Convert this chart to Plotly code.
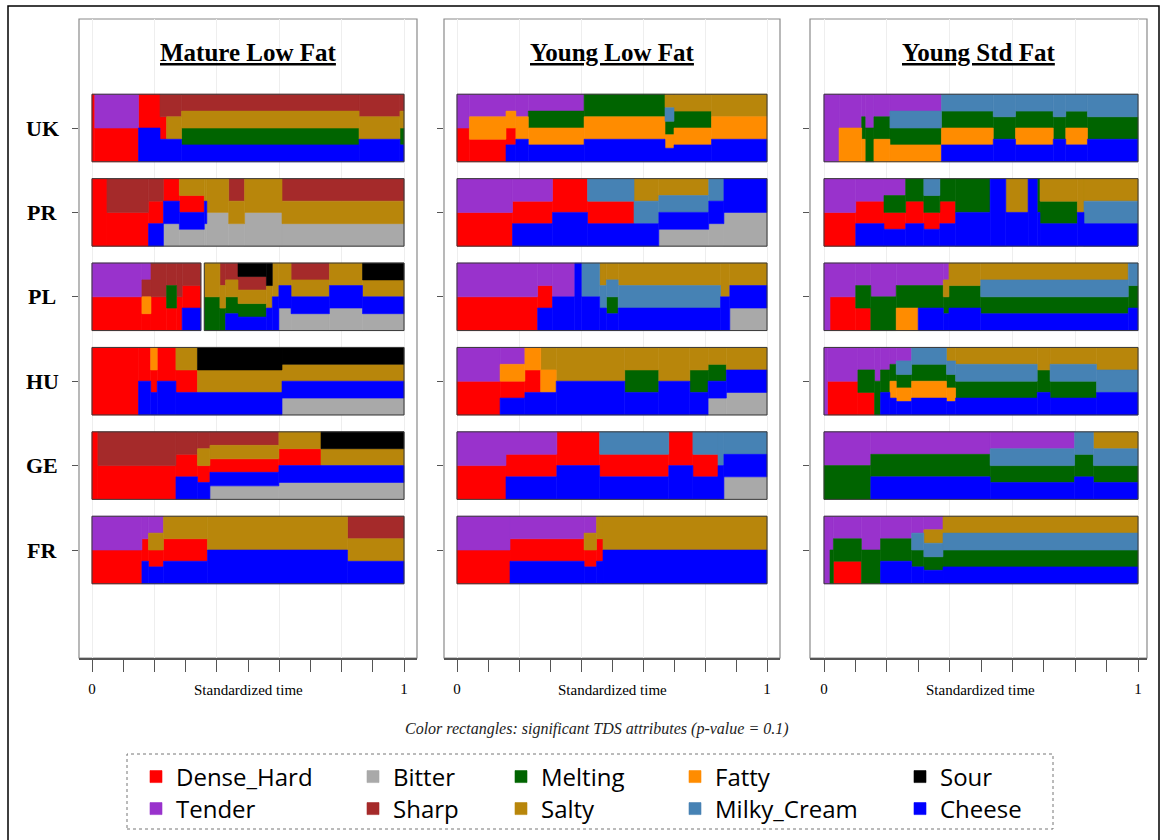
import plotly.graph_objects as go

# ---------------- data ----------------
PANELS = ["Mature Low Fat", "Young Low Fat", "Young Std Fat"]
COUNTRIES = ["UK", "PR", "PL", "HU", "GE", "FR"]

ATTRIBUTES = ["Dense_Hard", "Tender", "Bitter", "Sharp", "Melting",
              "Salty", "Fatty", "Milky_Cream", "Sour", "Cheese"]
ATTR_CODES = ["D", "T", "B", "S", "M", "Y", "F", "K", "O", "C"]
ATTR_COLORS = ["#FF0000", "#9932CC", "#A9A9A9", "#A52A2A", "#006400",
               "#B8860B", "#FF8C00", "#4682B4", "#000000", "#0000FF"]

LEGEND_ROW1 = ["Dense_Hard", "Bitter", "Melting", "Fatty", "Sour"]
LEGEND_ROW2 = ["Tender", "Sharp", "Salty", "Milky_Cream", "Cheese"]

X_TICKS = [0, 0.2, 0.4, 0.6, 0.8, 1.0]
X_TICK_TEXT = ["0", "", "", "", "", "1"]
X_TITLE = "Standardized time"
CAPTION = "Color rectangles: significant TDS attributes (p-value = 0.1)"

# (start of time segment, significant attributes stacked bottom -> top)
mature_UK = [(0.000, "D"), (0.009, "DT"), (0.149, "CD"), (0.218, "CDS"), (0.239, "CYS"),
             (0.287, "CMYS"), (0.856, "CYS"), (0.987, "CMYS")]
mature_PR = [(0.000, "D"), (0.048, "DS"), (0.181, "CDS"), (0.229, "BCD"), (0.280, "BCDY"),
             (0.360, "BCY"), (0.368, "BY"), (0.438, "BYS"), (0.489, "BY"), (0.609, "BYS")]
mature_PL = [(0.000, "DT"), (0.160, "DFST"), (0.189, "DS"), (0.239, "DMS"), (0.271, "DS"),
             (0.289, "CDS"), (0.349, ""), (0.360, "MY"), (0.410, "MYS"), (0.428, "CMYS"),
             (0.468, "CMYSO"), (0.559, "CYO"), (0.578, "CY"), (0.599, "BCY"), (0.638, "BCYS"),
             (0.761, "BCY"), (0.867, "BCYO")]
mature_HU = [(0.000, "D"), (0.149, "CD"), (0.188, "CDF"), (0.209, "CD"), (0.269, "CDY"),
             (0.338, "CYO"), (0.609, "BCYO")]
mature_GE = [(0.000, "D"), (0.019, "DS"), (0.269, "CDS"), (0.338, "CDYS"), (0.378, "BCDYS"),
             (0.599, "BCDY"), (0.734, "BCYO")]
mature_FR = [(0.000, "DT"), (0.160, "CDT"), (0.181, "CDYT"), (0.229, "CDY"), (0.370, "CY"),
             (0.819, "CYS")]

youngLF_UK = [(0.000, "DT"), (0.040, "DFT"), (0.158, "CDFT"), (0.190, "CFT"), (0.230, "CFMT"),
              (0.410, "CFM"), (0.671, "CFMKY"), (0.700, "CFMY"), (0.821, "CFY")]
youngLF_PR = [(0.000, "DT"), (0.179, "CDT"), (0.308, "CD"), (0.421, "CDK"), (0.571, "CKY"),
              (0.651, "BCKY"), (0.812, "BCK"), (0.861, "BC")]
youngLF_PL = [(0.000, "DT"), (0.260, "CDT"), (0.308, "CT"), (0.380, "C"), (0.401, "CK"),
              (0.460, "CKY"), (0.482, "CMKY"), (0.520, "CKY"), (0.850, "CY"), (0.880, "BCY")]
youngLF_HU = [(0.000, "DT"), (0.139, "CDFT"), (0.219, "CDF"), (0.270, "CFY"), (0.320, "CY"),
              (0.541, "CMY"), (0.651, "CY"), (0.751, "CMY"), (0.810, "BCMY"), (0.869, "BCY")]
youngLF_GE = [(0.000, "DT"), (0.158, "CDT"), (0.322, "CD"), (0.460, "CDK"), (0.683, "CD"),
              (0.761, "CDK"), (0.842, "CK"), (0.861, "BCK")]
youngLF_FR = [(0.000, "DT"), (0.171, "CDT"), (0.410, "CDYT"), (0.450, "CDY"), (0.471, "CY")]

youngSF_UK = [(0.000, "T"), (0.048, "FT"), (0.120, "FMT"), (0.131, "MT"), (0.159, "FMT"),
              (0.210, "FMKT"), (0.374, "CFMK"), (0.539, "CMK"), (0.610, "CFMK"), (0.730, "CMK"),
              (0.770, "CFMK"), (0.839, "CMK")]
youngSF_PR = [(0.000, "DT"), (0.101, "CDT"), (0.191, "CDMT"), (0.260, "CDM"), (0.318, "CDMK"),
              (0.369, "CDM"), (0.419, "CM"), (0.529, "C"), (0.579, "CY"), (0.650, "C"),
              (0.679, "CM"), (0.688, "CMY"), (0.807, "CY"), (0.828, "CKY")]
youngSF_PL = [(0.000, "T"), (0.019, "DT"), (0.101, "DMT"), (0.149, "MT"), (0.230, "FMT"),
              (0.300, "CMT"), (0.380, "CMYT"), (0.398, "CMY"), (0.499, "CMKY"), (0.969, "CMK")]
youngSF_HU = [(0.000, "T"), (0.011, "DT"), (0.108, "DMT"), (0.161, "MT"), (0.180, "CMT"),
              (0.210, "CFMT"), (0.230, "CFMKT"), (0.279, "CFMK"), (0.390, "CFMKY"),
              (0.419, "CMKY"), (0.679, "CMY"), (0.720, "CMKY"), (0.868, "CKY")]
youngSF_GE = [(0.000, "MT"), (0.149, "CMT"), (0.529, "CMKT"), (0.798, "CMK"), (0.858, "CMKY")]
youngSF_FR = [(0.000, "T"), (0.019, "MT"), (0.030, "DMT"), (0.119, "MT"), (0.180, "CMT"),
              (0.279, "CMKT"), (0.318, "CMKYT"), (0.379, "CMKY")]

BANDS = [
    [mature_UK, mature_PR, mature_PL, mature_HU, mature_GE, mature_FR],
    [youngLF_UK, youngLF_PR, youngLF_PL, youngLF_HU, youngLF_GE, youngLF_FR],
    [youngSF_UK, youngSF_PR, youngSF_PL, youngSF_HU, youngSF_GE, youngSF_FR],
]

# ---------------- layout geometry (pixels) ----------------
W, H = 1162, 840
def px(x):
    return x / W
def py(y):
    return 1 - y / H

BOX_X = [(79, 417), (444, 780), (810, 1147)]
T0_PX = [92, 457, 824]
T1_PX = [404, 767, 1138]
BOX_TOP, BOX_BOTTOM = 19, 658
ROW0_PX, ROW_STEP = 128, 84.4
ROW_H = 0.8
Y_RANGE = [-(BOX_BOTTOM - ROW0_PX) / ROW_STEP, (ROW0_PX - BOX_TOP) / ROW_STEP]

code_to_attr = dict(zip(ATTR_CODES, ATTRIBUTES))
attr_color = dict(zip(ATTRIBUTES, ATTR_COLORS))
legend_slots = {}
for j, a in enumerate(LEGEND_ROW1 + LEGEND_ROW2):
    legend_slots[a] = "legend" if j == 0 else f"legend{j + 1}"

fig = go.Figure()
shapes = []
annotations = []
legend_done = set()


def outline(xa, ya, t0, t1, bottom):
    return dict(type="rect", xref=xa, yref=ya, x0=t0, x1=t1, y0=bottom, y1=bottom + ROW_H,
                layer="above", line=dict(color="#3a3a3a", width=1))


for p, panel in enumerate(PANELS):
    xa = "x" if p == 0 else f"x{p + 1}"
    ya = "y" if p == 0 else f"y{p + 1}"
    rects = {a: [] for a in ATTRIBUTES}   # [t0, t1, base, height]
    for r, segs in enumerate(BANDS[p]):
        bottom = -r - ROW_H / 2
        run_start, run_end = None, None
        for i, (t0, codes) in enumerate(segs):
            t1 = segs[i + 1][0] if i + 1 < len(segs) else 1.0
            n = len(codes)
            if n == 0:
                if run_start is not None:
                    shapes.append(outline(xa, ya, run_start, run_end, bottom))
                    run_start = None
                continue
            if run_start is None:
                run_start = t0
            run_end = t1
            for k, c in enumerate(codes):
                a = code_to_attr[c]
                b, h = bottom + k * ROW_H / n, ROW_H / n
                last = rects[a][-1] if rects[a] else None
                if last and abs(last[1] - t0) < 1e-9 and abs(last[2] - b) < 1e-9 \
                        and abs(last[3] - h) < 1e-9:
                    last[1] = t1
                else:
                    rects[a].append([t0, t1, b, h])
        if run_start is not None:
            shapes.append(outline(xa, ya, run_start, run_end, bottom))
    for a in ATTRIBUTES:
        rs = rects[a]
        if not rs:
            continue
        show = a not in legend_done
        legend_done.add(a)
        fig.add_trace(go.Bar(
            x=[(q[0] + q[1]) / 2 for q in rs], width=[q[1] - q[0] for q in rs],
            base=[q[2] for q in rs], y=[q[3] for q in rs],
            marker=dict(color=attr_color[a], line=dict(color=attr_color[a], width=0.6)),
            name=a, legendgroup=a, showlegend=show, legend=legend_slots[a],
            xaxis=xa, yaxis=ya, hoverinfo="skip",
        ))

    # axes
    l, rgt = BOX_X[p]
    unit = T1_PX[p] - T0_PX[p]
    xr = [-(T0_PX[p] - l) / unit, 1 + (rgt - T1_PX[p]) / unit]
    xkey = "xaxis" if p == 0 else f"xaxis{p + 1}"
    ykey = "yaxis" if p == 0 else f"yaxis{p + 1}"
    fig.layout[xkey] = dict(
        domain=[px(l), px(rgt)], range=xr, anchor=ya,
        tickmode="array", tickvals=X_TICKS, ticktext=X_TICK_TEXT,
        ticks="outside", ticklen=12, tickcolor="#555", tickwidth=1,
        ticklabelstandoff=4,
        showgrid=True, gridcolor="#eeeeee", gridwidth=1, zeroline=False,
        showline=True, linecolor="#555", linewidth=1.5,
        minor=dict(dtick=0.1, tick0=0, ticks="outside", ticklen=12, tickcolor="#555",
                   tickwidth=1, showgrid=False),
        tickfont=dict(family="Liberation Serif", size=15, color="black"),
        fixedrange=True,
    )
    fig.layout[ykey] = dict(
        domain=[py(BOX_BOTTOM), py(BOX_TOP)], range=Y_RANGE, anchor=xa,
        tickmode="array", tickvals=[-i for i in range(len(COUNTRIES))],
        ticktext=[""] * len(COUNTRIES), ticks="outside", ticklen=6, tickcolor="#555",
        showgrid=False, zeroline=False, showline=False, fixedrange=True,
    )
    # panel frame
    shapes.append(dict(type="rect", xref=f"{xa} domain", yref=f"{ya} domain",
                       x0=0, x1=1, y0=0, y1=1, layer="below",
                       line=dict(color="#8a8a8a", width=1.2)))
    # panel title
    annotations.append(dict(text=f"<b><u>{panel}</u></b>", xref=f"{xa} domain", x=0.5,
                            yref="paper", y=py(52), showarrow=False,
                            xanchor="center", yanchor="middle",
                            font=dict(family="Liberation Serif", size=25, color="black")))
    # axis title
    annotations.append(dict(text=X_TITLE, xref=xa, x=0.5, yref="paper", y=py(690),
                            showarrow=False, xanchor="center", yanchor="middle",
                            font=dict(family="Liberation Serif", size=15, color="black")))

# row labels
for r, c in enumerate(COUNTRIES):
    annotations.append(dict(text=f"<b>{c}</b>", xref="paper", x=px(42), yref="y", y=-r,
                            showarrow=False, xanchor="center", yanchor="middle",
                            font=dict(family="Liberation Serif", size=22, color="black")))

# caption
annotations.append(dict(text=f"<i>{CAPTION}</i>", xref="paper", x=px(597), yref="paper",
                        y=py(729), showarrow=False, xanchor="center", yanchor="middle",
                        font=dict(family="Liberation Serif", size=16, color="#222")))

# outer frame and legend frame
shapes.append(dict(type="rect", xref="paper", yref="paper", x0=px(8), x1=px(1159),
                   y0=py(850), y1=py(6), line=dict(color="black", width=1.5), layer="below"))
shapes.append(dict(type="rect", xref="paper", yref="paper", x0=px(127), x1=px(1053),
                   y0=py(829), y1=py(754), line=dict(color="#777", width=1, dash="dot"),
                   layer="below"))

# legends: one per entry, placed in a 5 x 2 grid
LEG_MARK_X = [152, 369, 517, 691, 916]
LEG_ROW_Y = [777, 809]
legend_layouts = {}
for j, a in enumerate(LEGEND_ROW1 + LEGEND_ROW2):
    col, row = j % 5, j // 5
    key = "legend" if j == 0 else f"legend{j + 1}"
    legend_layouts[key] = dict(
        x=px(LEG_MARK_X[col] - 16), y=py(LEG_ROW_Y[row]), xanchor="left", yanchor="middle",
        orientation="v", bgcolor="rgba(0,0,0,0)", borderwidth=0,
        font=dict(family="Open Sans", size=24, color="black"), itemclick=False,
        itemdoubleclick=False,
    )

fig.update_layout(
    width=W, height=H, margin=dict(l=0, r=0, t=0, b=0, autoexpand=False),
    paper_bgcolor="white", plot_bgcolor="rgba(0,0,0,0)",
    barmode="overlay", shapes=shapes, annotations=annotations,
    showlegend=True, **legend_layouts,
)

fig.write_html("out.html", config={"displayModeBar": False},
               post_script="document.body.style.margin='0px';")
